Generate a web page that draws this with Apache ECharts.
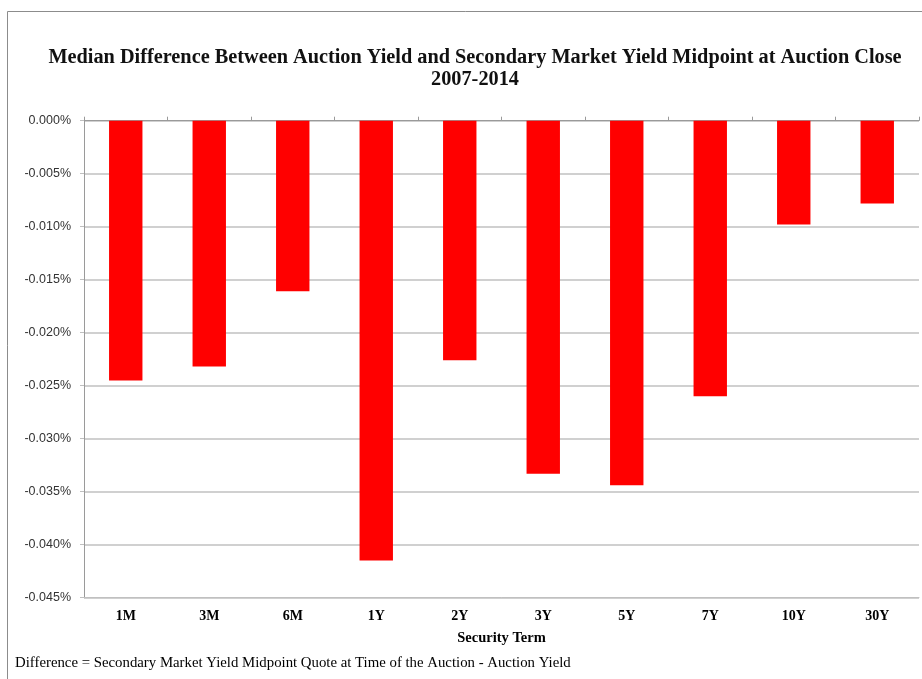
<!DOCTYPE html>
<html>
<head>
<meta charset="utf-8">
<script src="https://cdn.jsdelivr.net/npm/echarts@6/dist/echarts.min.js"></script>
<style>
  html, body { margin: 0; padding: 0; background: #fff; }
  #chart { width: 922px; height: 679px; }
</style>
</head>
<body>
<div id="chart"></div>
<script>
// Security terms along the x axis
const terms = ['1M', '3M', '6M', '1Y', '2Y', '3Y', '5Y', '7Y', '10Y', '30Y'];
// Median difference, in percentage points
const medianDiff = [-0.0245, -0.0232, -0.0161, -0.0415, -0.0226, -0.0333, -0.0344, -0.0260, -0.0098, -0.0078];
// Value axis range and step
const yMin = -0.045;
const yMax = 0;
const yStep = 0.005;

const serif = '"Liberation Serif", "DejaVu Serif", serif';
const sans = '"Liberation Sans", Arial, sans-serif';

const chart = echarts.init(document.getElementById('chart'), null, { renderer: 'canvas' });

chart.setOption({
  backgroundColor: '#ffffff',
  animation: false,
  title: {
    text: 'Median Difference Between Auction Yield and Secondary Market Yield Midpoint at Auction Close\n2007-2014',
    left: 470,
    top: 42,
    textAlign: 'center',
    textStyle: {
      fontFamily: serif,
      fontWeight: 'bold',
      fontSize: 20.3,
      lineHeight: 22,
      color: '#111'
    }
  },
  grid: {
    left: 84,
    right: 3,
    top: 120.7,
    bottom: 81.3,
    containLabel: false
  },
  xAxis: [
    {
      type: 'category',
      data: terms,
      position: 'bottom',
      name: 'Security Term',
      nameLocation: 'middle',
      nameGap: 33,
      nameTextStyle: { fontFamily: serif, fontWeight: 'bold', fontSize: 14.5, color: '#000' },
      axisLine: { show: true, onZero: false, lineStyle: { color: '#c0c0c0', width: 1 } },
      axisTick: { show: false },
      axisLabel: { fontFamily: serif, fontWeight: 'bold', fontSize: 14, color: '#000', margin: 12 }
    },
    {
      type: 'category',
      data: terms,
      position: 'top',
      axisLine: { show: true, onZero: false, lineStyle: { color: '#9a9a9a', width: 1 } },
      axisTick: { show: true, inside: false, length: 4, alignWithLabel: false, lineStyle: { color: '#9a9a9a' } },
      axisLabel: { show: false }
    }
  ],
  yAxis: {
    type: 'value',
    min: yMin,
    max: yMax,
    interval: yStep,
    axisLine: { show: true, lineStyle: { color: '#9a9a9a', width: 1 } },
    axisTick: { show: true, length: 4, lineStyle: { color: '#c0c0c0' } },
    splitLine: { show: true, lineStyle: { color: '#c0c0c0', width: 1.5 } },
    axisLabel: {
      fontFamily: sans,
      fontSize: 12.5,
      color: '#333',
      margin: 13,
      formatter: v => v.toFixed(3) + '%'
    }
  },
  series: [
    {
      type: 'bar',
      xAxisIndex: 0,
      data: medianDiff,
      barWidth: '40%',
      itemStyle: { color: '#ff0000' }
    }
  ],
  graphic: [
    {
      type: 'rect',
      shape: { x: 7.5, y: 11.5, width: 940, height: 720 },
      style: { fill: 'none', stroke: '#8c8c8c', lineWidth: 1 },
      silent: true
    },
    {
      type: 'text',
      left: 15,
      top: 656,
      style: {
        text: 'Difference = Secondary Market Yield Midpoint Quote at Time of the Auction - Auction Yield',
        fontFamily: serif,
        fontSize: 14.8,
        fill: '#000'
      }
    }
  ]
});
</script>
</body>
</html>
